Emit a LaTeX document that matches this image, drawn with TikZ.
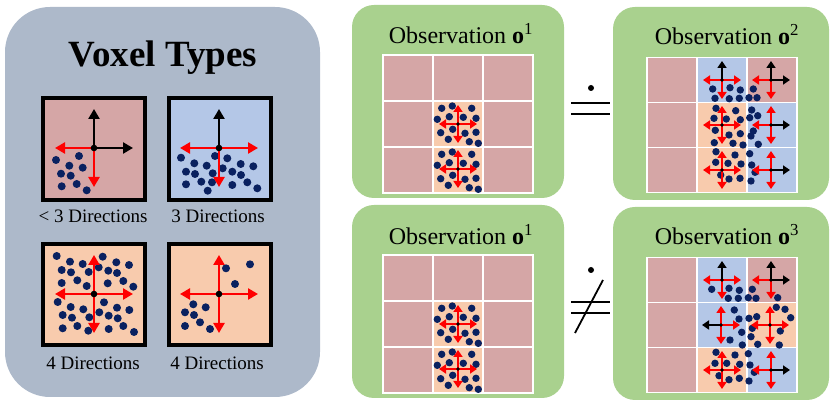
\documentclass[tikz,border=0pt]{standalone}
\usepackage{fontspec}
\setmainfont{Liberation Serif}
\usetikzlibrary{arrows.meta}

\definecolor{panelgray}{RGB}{173,185,202}
\definecolor{panelgreen}{RGB}{169,209,142}
\definecolor{voxpink}{RGB}{213,166,166}
\definecolor{voxblue}{RGB}{180,199,231}
\definecolor{voxpeach}{RGB}{248,203,173}
\definecolor{ptblue}{RGB}{10,33,96}

% style, x, y, length, up, right, down, left, centre dot
\newcommand{\voxcross}[9]{%
  \draw[#1,#5] (#2,#3) -- ++(0,-#4);
  \draw[#1,#6] (#2,#3) -- ++(#4,0);
  \draw[#1,#7] (#2,#3) -- ++(0,#4);
  \draw[#1,#8] (#2,#3) -- ++(-#4,0);
  \fill (#2,#3) circle (#9);
}
% x0, y0, height, three colours
\newcommand{\voxrow}[6]{%
  \draw[gridcell,fill=#4] (#1,#2) rectangle ++(50,#3);
  \draw[gridcell,fill=#5] (#1+50,#2) rectangle ++(50,#3);
  \draw[gridcell,fill=#6] (#1+100,#2) rectangle ++(50,#3);
}
\newcommand{\densecell}[2]{%
  \begin{scope}[shift={(#1,#2)}]
    \foreach \p in {(8.7,7.3),(19.3,5),(38.7,7.3),(4.3,18.3),(16.3,15.7),(30.3,16.3),(43,17.3),
      (7.7,31.7),(19.7,28.3),(32,32.3),(43,31.3),(15.3,38.3),(36.3,40.7),(45.3,42.3)}
      \fill[ptblue] \p circle (3.7pt);
  \end{scope}
}

\begin{document}
\begin{tikzpicture}[x=1pt,y=-1pt,
    bigarr/.style={-{Triangle[length=10pt,width=11pt]},line width=2.8pt},
    smallarr/.style={-{Triangle[length=7pt,width=9pt]},line width=2.2pt},
    voxbox/.style={line width=3.5pt},
    gridcell/.style={draw=white,line width=1.8pt},
    lbl/.style={font=\fontsize{19}{22}\selectfont,anchor=base},
    obs/.style={font=\fontsize{24}{28}\selectfont,anchor=base},
    relline/.style={line width=1.8pt}]
  \useasboundingbox (0,0) rectangle (831,403);
  %\draw [help lines,step=50] (0,0) grid (831,403);

  % voxel types
  \fill[panelgray,rounded corners=45pt] (5,7) rectangle (320,397);
  \node[font=\fontsize{37}{40}\selectfont\bfseries,anchor=base] (title) at (163,67) {Voxel Types};

  \draw[voxbox,fill=voxpink] (43,98) rectangle (145,200);
  \draw[voxbox,fill=voxblue] (169,98) rectangle (271,200);
  \draw[voxbox,fill=voxpeach] (43,244) rectangle (145,345);
  \draw[voxbox,fill=voxpeach] (169,244) rectangle (271,345);

  \foreach \p in {(56,160),(79,156),(69.3,165.7),(82.7,167.7),(61,173.7),(70.7,175.7),
    (61.7,186.3),(76.7,184),(86.7,190.3)}
    \fill[ptblue] \p circle (4pt);
  \foreach \p in {(181,157.7),(215,156),(227.3,158.3),(194.3,163.3),(206.7,165.7),(222.7,168.3),
    (240.7,164),(253.3,166.3),(186,171.7),(195,174),(212.7,173.3),(232.3,171.7),(241,175),
    (186,184.3),(201.3,181.7),(212,182.3),(232.3,185),(247.3,182.3),(257.3,188.3),(207.7,190.7)}
    \fill[ptblue] \p circle (4pt);
  \foreach \p in {(56.7,256),(70,261.7),(82.7,264),(102.7,256.7),(116.3,262.3),(129,265),
    (61.7,270),(71,272.3),(88.7,272),(98.7,267.3),(108.3,270.7),(117,273),(61.7,283),
    (77.3,280.3),(86.7,286),(107.7,283.3),(123.3,281),(133.3,286.7),(57.7,302),(104,302.3),
    (70.7,307),(83.3,309.3),(99.3,312.3),(117,307.7),(129.3,310),(62.7,315),(72,317.7),
    (89.3,317.3),(108.7,315.7),(117.7,318.3),(62.7,328.3),(77.3,326),(88.3,330.7),
    (108.7,329),(123.3,326),(134,332)}
    \fill[ptblue] \p circle (4pt);
  \foreach \p in {(226,268.3),(250,264.3),(235,284),(193.3,304.3),(205.7,307.3),(185,312.3),
    (194,315),(200,322.3),(185,326),(210,329)}
    \fill[ptblue] \p circle (4pt);

  \voxcross{bigarr}{94}{148}{39}{black}{black}{red}{red}{3.3pt}
  \voxcross{bigarr}{219}{148}{39}{black}{red}{red}{red}{3.3pt}
  \voxcross{bigarr}{94}{294}{39}{red}{red}{red}{red}{3.3pt}
  \voxcross{bigarr}{219}{294}{39}{red}{red}{red}{red}{3.3pt}

  \node[lbl] (lessthree) at (93,223) {< 3 Directions};
  \node[lbl] (three) at (218,223) {3 Directions};
  \node[lbl] (foura) at (93,370) {4 Directions};
  \node[lbl] (fourb) at (217,370) {4 Directions};

  % observations
  \fill[panelgreen,rounded corners=22pt] (352,5) rectangle (564,198);
  \fill[panelgreen,rounded corners=22pt] (613,7) rectangle (829,200);
  \fill[panelgreen,rounded corners=22pt] (352,205) rectangle (564,398);
  \fill[panelgreen,rounded corners=22pt] (613,207) rectangle (829,400);

  \node[obs] (obsa) at (461,44) {Observation \textbf{o}\textsuperscript{1}};
  \node[obs] (obsb) at (727,45) {Observation \textbf{o}\textsuperscript{2}};
  \node[obs] (obsc) at (461,245) {Observation \textbf{o}\textsuperscript{1}};
  \node[obs] (obsd) at (727,245) {Observation \textbf{o}\textsuperscript{3}};

  % o^1 (top)
  \voxrow{383}{55}{46}{voxpink}{voxpink}{voxpink}
  \voxrow{383}{101}{46}{voxpink}{voxpeach}{voxpink}
  \voxrow{383}{147}{46}{voxpink}{voxpeach}{voxpink}
  \densecell{433}{101}
  \densecell{433}{147}
  \voxcross{smallarr}{458}{124}{19}{red}{red}{red}{red}{1.8pt}
  \voxcross{smallarr}{458}{169}{19}{red}{red}{red}{red}{1.8pt}

  % o^1 (bottom)
  \voxrow{383}{255}{46}{voxpink}{voxpink}{voxpink}
  \voxrow{383}{301}{46}{voxpink}{voxpeach}{voxpink}
  \voxrow{383}{347}{46}{voxpink}{voxpeach}{voxpink}
  \densecell{433}{301}
  \densecell{433}{347}
  \voxcross{smallarr}{458}{324}{19}{red}{red}{red}{red}{1.8pt}
  \voxcross{smallarr}{458}{369}{19}{red}{red}{red}{red}{1.8pt}

  % o^2
  \voxrow{647}{57.5}{45}{voxpink}{voxblue}{voxpink}
  \voxrow{647}{102.5}{45}{voxpink}{voxpeach}{voxblue}
  \voxrow{647}{147.5}{45}{voxpink}{voxpeach}{voxblue}
  \foreach \p in {(712.7,89),(730,87.7),(740.3,90),(753.3,89),(715,98.3),(729.3,98.7),
    (739.3,98.3),(749,97.7),(757,97.7),
    (716,108.3),(735.7,110.7),(751.7,110),(714,118.3),(726.3,119),(740.3,119.7),(749.7,117.7),
    (757.7,115.7),(715.3,130.3),(729,135),(740.3,133.7),(751,136),(714.3,142.7),(733,143.3),
    (743,145),(758.3,144.3),(753.3,131),
    (716,151.7),(735,155),(749.7,153.7),(715.7,162.3),(728,163.3),(741,164),(751.7,165),
    (720.7,175),(729,179),(740,178.3),(755,172.3),(751,181)}
    \fill[ptblue] \p circle (3.7pt);
  \voxcross{smallarr}{722}{80}{19}{black}{red}{red}{red}{1.8pt}
  \voxcross{smallarr}{771}{80}{19}{black}{black}{red}{red}{1.8pt}
  \voxcross{smallarr}{722}{125}{19}{red}{red}{red}{red}{1.8pt}
  \voxcross{smallarr}{771}{125}{19}{red}{black}{red}{red}{1.8pt}
  \voxcross{smallarr}{722}{170}{19}{red}{red}{red}{red}{1.8pt}
  \voxcross{smallarr}{771}{170}{19}{red}{black}{red}{red}{1.8pt}

  % o^3
  \voxrow{647}{257.5}{45}{voxpink}{voxblue}{voxpink}
  \voxrow{647}{302.5}{45}{voxpink}{voxblue}{voxpeach}
  \voxrow{647}{347.5}{45}{voxpink}{voxpeach}{voxblue}
  \foreach \p in {(711.7,289.3),(729,288.3),(739.3,290.3),(752.3,289.3),(728.3,298.3),
    (738.3,298.3),(748.3,297.7),(756,298.3),(777.7,297.7),
    (734.3,310),(776.3,307.3),(785,309.3),(790.7,317.7),(739,319),(749,318.3),(756.7,316.7),
    (780.3,331),(741.7,332.3),(752.3,328.3),(751,336.7),(730,340),(742.3,345),(757.7,344.3),
    (779.3,345),
    (716,352.3),(735,355),(748.3,353.7),(715,363.3),(726.7,363.3),(739.7,364.3),(750,365),
    (719,375.7),(729,379.7),(739.3,378.3),(754.3,372.3),(749,381)}
    \fill[ptblue] \p circle (3.7pt);
  \voxcross{smallarr}{722}{280}{19}{black}{red}{red}{red}{1.8pt}
  \voxcross{smallarr}{771}{280}{19}{black}{black}{red}{red}{1.8pt}
  \voxcross{smallarr}{721}{325}{19}{red}{red}{red}{black}{1.8pt}
  \voxcross{smallarr}{770}{325}{19}{red}{red}{red}{red}{1.8pt}
  \voxcross{smallarr}{722}{370}{19}{red}{red}{red}{red}{1.8pt}
  \voxcross{smallarr}{771}{370}{19}{red}{black}{red}{red}{1.8pt}

  % relations
  \fill (591,88) circle (3pt);
  \draw[relline] (571,103) -- (610,103);
  \draw[relline] (571,114) -- (610,114);
  \fill (591,270) circle (3pt);
  \draw[relline] (571,302) -- (610,302);
  \draw[relline] (571,313) -- (610,313);
  \draw[relline] (575,333) -- (603,280);
\end{tikzpicture}
\end{document}
